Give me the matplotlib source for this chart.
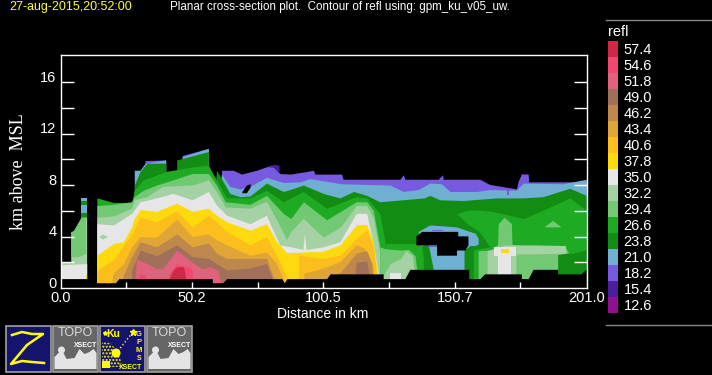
import matplotlib
matplotlib.use("Agg")
import matplotlib.pyplot as plt
from matplotlib.patches import Rectangle, Polygon, Circle

# colour scale
levels = [57.4, 54.6, 51.8, 49.0, 46.2, 43.4, 40.6, 37.8, 35.0, 32.2, 29.4, 26.6, 23.8, 21.0, 18.2, 15.4, 12.6]
colors = ['#d02648', '#f34671', '#e0627c', '#a0705a', '#be874b', '#e0a537', '#fcbe1c', '#fdda0d', '#e6e6e6',
          '#a5d2a5', '#73c873', '#1eaa23', '#128c12', '#6eafd2', '#785ae1', '#4b1e9b', '#910f91']
C = dict(zip(levels, colors))

x_ticks = [0.0, 50.2, 100.5, 150.7, 201.0]
y_labels = [0, 4, 8, 12, 16]

# --- main contour stack: height of the top of each band, km
p18_x = [32.3, 32.3, 40.2, 40.2, 46.5, 46.5, 56.5, 56.5, 61.5, 61.5, 66, 69.2, 74.9, 80.6, 83.8, 87.7, 94, 96.6, 97.2, 107.4, 108, 129.7, 131, 131.6, 144.3, 146, 146.2, 160.2, 164, 174.2, 174.9, 176.1, 178.7, 178.9, 200.9]
p18_z = [0, 9.9, 9.95, 0, 0, 10.3, 10.85, 0, 0, 9.15, 9.15, 8.85, 9.15, 9.55, 8.9, 8.85, 9.05, 9.15, 8.85, 8.85, 8.45, 8.45, 8.8, 8.45, 8.45, 8.8, 8.45, 8.45, 8.05, 7.7, 8.3, 8.85, 8.85, 8.25, 8.25]
b21_x = [28.2, 30.4, 32.3, 40.2, 40.2, 46.5, 46.5, 56.5, 56.5, 61.5, 64.7, 68.5, 72.4, 78.7, 85.1, 91.5, 95.3, 107.4, 125.9, 131, 136.7, 141.1, 145.6, 148.8, 159, 164, 174.2, 176.8, 192, 200.9]
b21_z = [9.15, 9.15, 9.7, 9.95, 0, 0, 10.2, 10.85, 0, 8.85, 7.9, 7.7, 7.9, 8.6, 8.2, 8.25, 8.5, 8.1, 8.0, 7.5, 7.65, 8.15, 8.1, 7.5, 7.5, 7.65, 7.6, 8.15, 8.1, 8.45]
d24_x = [28.2, 30.4, 33, 40.2, 40.2, 44.4, 44.4, 56.5, 56.5, 59.6, 61.5, 64.7, 68.5, 72.4, 78.7, 85.1, 87.7, 92.8, 100.4, 106.8, 112, 117, 122, 139, 141.1, 145, 154, 166.6, 176.8, 184.4, 194.6, 200.9]
d24_z = [8.0, 9.05, 9.7, 9.7, 0, 0, 9.95, 10.6, 0, 9.15, 8.5, 7.35, 7.1, 7.15, 8.15, 7.5, 7.65, 8.0, 7.35, 7.0, 7.5, 7.2, 6.7, 7.0, 7.2, 6.85, 6.8, 7.0, 7.0, 7.1, 7.75, 7.2]
g27_x = [13.9, 20.2, 27.2, 28.2, 31.7, 40.2, 44.4, 50.3, 56.5, 57.5, 59.6, 63.5, 72.4, 78.7, 85.1, 88, 92.8, 101.7, 113, 117, 122, 124]
g27_z = [7.0, 6.65, 6.65, 7.6, 8.4, 9.05, 9.2, 9.4, 9.55, 9.15, 8.4, 7.0, 7.0, 7.6, 6.7, 7.0, 7.5, 6.2, 7.1, 7.0, 5.8, 3.6]
l29_x = [13.9, 20.2, 27.2, 28.2, 31.7, 36.7, 43, 50.3, 56.5, 59.6, 63, 72.4, 78.7, 85.1, 88, 92.8, 101.7, 113, 117, 119.5, 122]
l29_z = [6.4, 6.5, 6.7, 7.1, 7.6, 8.0, 8.4, 8.9, 8.9, 8.0, 6.7, 6.5, 7.2, 5.8, 5.4, 6.7, 5.3, 6.7, 6.7, 6.05, 3.2]
p32_x = [13.9, 20.2, 27.2, 28.2, 33, 39, 50.3, 56.5, 59.6, 63, 72.4, 78.7, 82.6, 86.4, 88, 92.8, 100.4, 107, 113, 117, 119.5, 122]
p32_z = [5.5, 5.6, 6.2, 6.85, 7.1, 7.9, 8.0, 8.4, 7.5, 6.3, 6.2, 6.75, 5.3, 3.75, 4.4, 5.4, 3.95, 4.75, 6.4, 6.4, 5.5, 2.7]
w35_x = [13.9, 20.2, 27.2, 30.4, 36.7, 43, 50.3, 56.5, 59.6, 63.5, 72.4, 78.7, 80.6, 83.8, 88, 92.6, 93.2, 93.8, 100.4, 106.8, 113, 117, 119.5, 121.5]
w35_z = [5.0, 4.9, 5.8, 6.7, 7.0, 7.35, 6.85, 7.5, 6.45, 5.65, 5.0, 5.65, 4.75, 3.35, 3.2, 3.0, 4.25, 3.0, 3.2, 3.6, 5.8, 5.8, 3.45, 1.0]
y38_x = [13.9, 20.2, 24, 27.2, 28.2, 30.4, 36.7, 44.4, 50.3, 56.5, 59.6, 63.5, 72.4, 78.7, 82.6, 86.4, 100, 106.8, 113, 117, 119.5, 120.5, 121.5]
y38_z = [2.55, 3.45, 3.6, 4.75, 5.4, 6.1, 5.95, 6.6, 5.95, 6.2, 5.65, 5.15, 4.5, 5.0, 3.6, 2.75, 2.85, 3.35, 4.9, 4.95, 3.6, 2.0, 0.7]
o41_x = [13.9, 20.2, 24, 27.2, 30.4, 36.7, 44.4, 50.3, 56.5, 59.6, 63.5, 72.4, 78.7, 82.6, 86.4, 87, 90.9, 91, 100.4, 106.8, 113, 117, 119.5, 120.5, 121]
o41_z = [1.4, 2.2, 3.3, 4.2, 5.5, 5.15, 6.0, 4.75, 5.65, 5.15, 4.4, 3.35, 4.0, 2.55, 0.9, 0, 0, 2.55, 2.3, 2.55, 3.85, 4.5, 3.2, 1.7, 0]
a43_x = [19, 20.2, 24, 27.2, 30.4, 36.7, 44.4, 50.3, 56.5, 59.6, 63.5, 72.4, 78.7, 82.6, 85, 85.5, 92.9, 93, 100.4, 106.8, 113, 116, 118, 119.5, 120]
a43_z = [0, 1.15, 1.9, 3.2, 4.0, 3.95, 5.35, 4.0, 4.2, 3.75, 3.35, 2.55, 2.8, 1.9, 0.7, 0, 0, 1.15, 1.55, 2.05, 3.35, 3.1, 2.4, 1.5, 0]
t46_x = [23.5, 24, 27.2, 30.4, 36.7, 44.4, 50.3, 56.5, 59.6, 63.5, 72.4, 78.7, 81, 82.6, 102.9, 103, 106.8, 113, 117, 119, 119.5]
t46_z = [0, 1.0, 2.45, 3.6, 3.2, 4.2, 3.2, 3.5, 2.7, 2.3, 2.3, 2.3, 1.0, 0, 0, 0.7, 1.2, 2.7, 2.9, 1.9, 0]
r49_x = [27, 27.2, 30.4, 36.7, 44.4, 50.3, 56.5, 59.6, 63.5, 72.4, 78.7, 81, 81.1, 112, 113, 117, 118, 118.1]
r49_z = [0, 1.4, 2.95, 2.5, 3.35, 2.45, 2.3, 1.9, 1.4, 1.55, 1.9, 0.7, 0, 0, 2.0, 2.1, 1.0, 0]
k52_x = [28.2, 29, 33, 36.7, 39, 44.4, 50.3, 54, 57, 60, 62]
k52_z = [0, 2.25, 1.9, 1.5, 1.5, 2.95, 2.0, 1.5, 1.65, 1.4, 0]
h55_x = [29.8, 30, 32.5, 33, 41, 41.5, 44.4, 50.3, 50.5]
h55_z = [0, 1.1, 1.0, 0, 0, 1.1, 1.9, 1.5, 0]
c57_x = [41.5, 43, 44.5, 47, 47.7]
c57_z = [0.7, 1.4, 1.65, 1.65, 1.0]

# --- separate columns near the origin
s_w_x, s_w_z = [0, 10], [1.8, 1.9]
s_p_x, s_p_z = [0, 3.9, 3.9, 7.7, 7.8, 10], [2.05, 2.05, 4.4, 4.5, 5.5, 5.5]
s_l_x, s_l_lo, s_l_hi = [4, 5, 7.8, 9.6], [2.5, 2.4, 2.5, 2.7], [4.3, 4.5, 5.5, 5.5]
s_top_x = [7.8, 10]
s_b1 = [7.0, 7.0]
s_d1 = [6.75, 6.75]
s_b2 = [6.45, 6.45]
s_d2 = [5.8, 5.8]
s_y_x, s_y_lo, s_y_hi = [9.7, 10], [0.7, 0.7], [1.0, 1.0]

# --- right-hand cells
blue_ring_x = [136.7, 141.1, 151.3, 158.5, 159.6]
blue_ring_hi = [4.4, 4.9, 4.75, 4.25, 3.85]
blue_ring_lo = [3.3, 3.3, 3.3, 3.3, 3.4]
blue_core_x = [140, 142.4, 156.5]
blue_core_hi = [3.4, 3.4, 3.4]
gr_x = [151.3, 156, 160, 163, 164, 164, 177, 184.4, 194.6, 200.9]
gr_lo = [5.8, 4.9, 4.4, 3.5, 3.2, 0, 0, 0, 0, 0]
gr_hi = [5.8, 6.05, 6.05, 6.0, 6.0, 6.0, 5.4, 6.05, 7.0, 6.05]
gs_x, gs_hi = [157.6, 158.5, 164], [2.9, 3.0, 3.2]
lr_x = [159.6, 165, 167, 167.3, 169.5, 172.3, 172.5, 175, 180, 192.7, 194]
lr_hi = [2.9, 2.95, 3.4, 5.0, 5.5, 5.0, 3.4, 3.3, 3.2, 3.2, 2.8]
lump_x, lump_lo, lump_hi = [185, 188, 191], [4.75, 4.75, 4.75], [4.8, 5.25, 4.8]
dr_x, dr_hi = [190, 193, 196, 200.9], [2.6, 2.7, 2.7, 3.0]
gr2_x, gr2_lo, gr2_hi = [194.6, 198, 200.9], [2.8, 2.8, 3.0], [3.4, 3.9, 3.3]
pr_x, pr_hi = [163, 170, 174], [2.9, 3.35, 3.35]
pb_x, pb_lo, pb_hi = [174, 180, 193], [2.65, 2.65, 2.7], [3.35, 3.35, 3.3]
wu_x, wu_lo, wu_hi = [165.5, 170, 174], [2.5, 2.5, 2.5], [3.2, 3.2, 3.2]
wc_x, wc_hi = [167.3, 172.3], [2.9, 2.9]
ys_x, ys_lo, ys_hi = [168.5, 171.2], [2.7, 2.7], [3.05, 3.05]
gl_x, gl_hi = [124, 136, 138, 139], [3.45, 3.45, 3.3, 2.0]
ds_x, ds_hi = [138.6, 140.5, 142.4], [3.45, 3.4, 1.5]
dt_x, dt_hi = [154.2, 156.5, 157.6], [2.95, 3.3, 2.9]
ll_x, ll_hi = [122, 124, 130, 133, 135.5, 136.5], [3.2, 3.05, 2.95, 3.0, 2.5, 0.8]
pl_x, pl_hi = [122.5, 126, 130, 132, 134.5, 135.5], [0.7, 1.9, 2.3, 2.9, 2.5, 0.7]
wl_x, wl_hi = [125.9, 130.3], [1.15, 1.15]
pblob_x, pblob_lo, pblob_hi = [14.5, 16, 18], [4.0, 3.8, 4.0], [4.0, 4.2, 4.0]
# thin weak-echo slivers
v1_x, v1_lo, v1_hi = [142, 146], [4.4, 4.4], [4.5, 4.5]
v2_x, v2_lo, v2_hi = [140.5, 144], [3.15, 3.15], [3.3, 3.3]
v3_x, v3_lo, v3_hi = [170.5, 171.5], [7.2, 7.2], [7.6, 7.6]
u1_x, u1_lo, u1_hi = [176.1, 178.7], [8.75, 8.75], [8.85, 8.85]
u2_x, u2_lo, u2_hi = [79.5, 81.5, 83.5], [9.4, 9.4, 8.9], [9.5, 9.6, 9.55]

# no-echo areas
bottom_x = [0, 10, 13.9, 21, 22.3, 58, 58, 62, 63.5, 84.6, 85.5, 86.5, 101.7, 103, 123.3, 123.3, 131.6, 133.5, 156, 156, 160.3, 162, 176.1, 176.1, 178.7, 180.6, 190, 190, 198.8, 200.9]
bottom_z = [0.73, 0.73, 0.41, 0.41, 0.73, 0.73, 0.41, 0.41, 0.73, 0.73, 0.41, 0.73, 0.73, 1.1, 1.1, 0.73, 0.73, 1.45, 1.45, 0.73, 0.73, 1.1, 1.1, 0.73, 0.73, 1.45, 1.45, 1.1, 1.1, 1.45]
hole_x = [135.8, 138, 143.7, 143.7, 151.3, 151.3, 151.8, 151.8, 154.5, 155.7]
hole_lo = [3.35, 3.35, 3.35, 2.55, 2.55, 2.95, 2.95, 2.95, 2.95, 3.35]
hole_hi = [4.05, 4.4, 4.4, 4.4, 4.4, 4.4, 4.4, 4.05, 4.05, 4.05]
hole2_x, hole2_lo, hole2_hi = [69.3, 71, 72.5], [7.4, 7.4, 7.85], [7.5, 8.0, 8.1]

W, H = 712, 375
fig = plt.figure(figsize=(W / 100, H / 100), dpi=100, facecolor='black')
plt.rcParams['font.family'] = ['Liberation Sans', 'DejaVu Sans']

# page overlay in pixel units
pg = fig.add_axes([0, 0, 1, 1])
pg.set_xlim(0, W); pg.set_ylim(H, 0); pg.axis('off')

L, R, T, B = 60.5, 586.5, 55, 288
ax = fig.add_axes([L / W, 1 - B / H, (R - L) / W, (B - T) / H], facecolor='black')
ax.set_xlim(0, 201.0)
ax.set_ylim(0, (B - T) / 12.87)


def band(level, x, hi, lo=0):
    ax.fill_between(x, lo, hi, color=C[level], linewidth=0, antialiased=False)


# isolated columns
band(21.0, s_top_x, s_b1)
band(23.8, s_top_x, s_d1)
band(21.0, s_top_x, s_b2)
band(23.8, s_top_x, s_d2)
band(32.2, s_p_x, s_p_z)
band(29.4, s_l_x, s_l_hi, s_l_lo)
band(35.0, s_w_x, s_w_z)
band(37.8, s_y_x, s_y_hi, s_y_lo)

# main stack, weak to strong
for lev, x, z in [(18.2, p18_x, p18_z), (21.0, b21_x, b21_z), (23.8, d24_x, d24_z), (26.6, g27_x, g27_z),
                  (29.4, l29_x, l29_z), (32.2, p32_x, p32_z), (35.0, w35_x, w35_z), (37.8, y38_x, y38_z),
                  (40.6, o41_x, o41_z), (43.4, a43_x, a43_z), (46.2, t46_x, t46_z), (49.0, r49_x, r49_z),
                  (51.8, k52_x, k52_z), (54.6, h55_x, h55_z), (57.4, c57_x, c57_z)]:
    band(lev, x, z)
band(32.2, pblob_x, pblob_hi, pblob_lo)

# right-hand cells
band(21.0, blue_ring_x, blue_ring_hi, blue_ring_lo)
band(21.0, blue_core_x, blue_core_hi)
band(26.6, gr_x, gr_hi, gr_lo)
band(26.6, gs_x, gs_hi)
band(29.4, lr_x, lr_hi)
band(29.4, lump_x, lump_hi, lump_lo)
band(23.8, dr_x, dr_hi)
band(26.6, gr2_x, gr2_hi, gr2_lo)
band(32.2, pr_x, pr_hi)
band(32.2, pb_x, pb_hi, pb_lo)
band(35.0, wu_x, wu_hi, wu_lo)
band(35.0, wc_x, wc_hi)
band(37.8, ys_x, ys_hi, ys_lo)
band(26.6, gl_x, gl_hi)
band(23.8, ds_x, ds_hi)
band(23.8, dt_x, dt_hi)
band(29.4, ll_x, ll_hi)
band(32.2, pl_x, pl_hi)
band(35.0, wl_x, wl_hi)
band(18.2, v1_x, v1_hi, v1_lo)
band(18.2, v2_x, v2_hi, v2_lo)
band(18.2, v3_x, v3_hi, v3_lo)
band(15.4, u1_x, u1_hi, u1_lo)
band(15.4, u2_x, u2_hi, u2_lo)

# no-echo
ax.fill_between(bottom_x, 0, bottom_z, color='black', linewidth=0, antialiased=False)
ax.fill_between(hole_x, hole_lo, hole_hi, color='black', linewidth=0, antialiased=False)
ax.fill_between(hole2_x, hole2_lo, hole2_hi, color='black', linewidth=0, antialiased=False)

# axes
for s in ax.spines.values():
    s.set_color('white'); s.set_linewidth(1)
ax.set_xticks([25.1 * i for i in range(1, 8)])
ax.set_yticks(range(2, 18, 2))
ax.tick_params(axis='x', direction='in', length=4.5, width=1, color='white', labelbottom=False)
ax.tick_params(axis='y', direction='in', length=9.5, width=1, color='white', left=True, right=True, labelleft=False)

for v in x_ticks:
    pg.text(L + v / 201.0 * (R - L), 298.5, f'{v:.1f}', color='white', ha='center', va='center', fontsize=10.5)
for v in y_labels:
    pg.text(56.5, B - v * 12.87 - 4.5, str(v), color='white', ha='right', va='center', fontsize=10.5)
pg.text(323, 314.5, 'Distance in km', color='white', ha='center', va='center', fontsize=10)
pg.text(19, 172, 'km above  MSL', color='white', rotation=90, ha='center', va='center', fontsize=13,
        family='Liberation Serif')

pg.text(9, 7, '27-aug-2015,20:52:00', color='#ffff30', va='center', fontsize=9)
pg.text(170, 7, 'Planar cross-section plot.  Contour of refl using: gpm_ku_v05_uw.', color='white', va='center', fontsize=8.4)

# colour bar
pg.plot([606, 712], [19.5, 19.5], color='#888888', lw=1)
pg.plot([606, 712], [324.5, 324.5], color='#888888', lw=1)
pg.text(608, 32, 'refl', color='white', va='center', fontsize=10.5)
for i, (lev, c) in enumerate(zip(levels, colors)):
    pg.add_patch(Rectangle((608, 41 + i * 16), 10, 16, facecolor=c, edgecolor='none'))
    pg.text(623.5, 49.5 + i * 16, f'{lev:.1f}', color='white', va='center', fontsize=10.5)

# button icons
NAVY = '#14146e'; GREY = '#666666'; EDGE = '#a0a0a0'; YEL = '#ffff00'
mtn = [(0, 44), (0, 32), (5, 27), (9, 28), (12, 34), (20, 33), (25, 24), (30, 29), (35, 27), (39, 24), (42, 28), (42, 44)]


def button(x0, face):
    pg.add_patch(Rectangle((x0, 325.5), 45, 46, facecolor=face, edgecolor=EDGE, linewidth=1.2))


def topo(x0):
    button(x0, GREY)
    pts = [(x0 + 2 + a, 325 + b) for a, b in mtn]
    pg.add_patch(Polygon(pts, closed=True, facecolor='#e4e4e4', edgecolor='none'))
    pg.text(x0 + 23, 333.5, 'TOPO', color='#d8d8d8', ha='center', va='center', fontsize=9)
    pg.text(x0 + 33, 345.5, 'XSECT', color='white', ha='center', va='center', fontsize=5, fontweight='bold')
    pg.add_patch(Circle((x0 + 9, 350), 3.5, facecolor='#e4e4e4', edgecolor='none'))


button(5.5, NAVY)
pg.plot([12, 22, 32, 43, 27, 11, 22, 32, 44], [335, 332, 334, 334, 345, 364, 361, 362, 363], color=YEL, lw=1.8)
topo(52.5)
button(99.5, NAVY)
pg.add_patch(Polygon([(102, 342), (110, 343), (119, 352), (122, 367), (102, 367)], closed=True,
                     facecolor='none', edgecolor=YEL, hatch='.....', linewidth=0))
pg.add_patch(Circle((116, 353), 4.5, facecolor=YEL, edgecolor='none'))
pg.add_patch(Rectangle((102, 361), 8, 6.5, facecolor=YEL, edgecolor='none'))
pg.text(113, 334, 'Ku', color=YEL, ha='center', va='center', fontsize=7.5, fontweight='bold')
pg.plot([105], [333], marker='*', color=YEL, ms=3)
pg.plot([118, 133], [351, 332], color=YEL, lw=1, ls=':')
pg.plot([133], [332], marker='*', color=YEL, ms=5)
for i, ch in enumerate('GPM'):
    pg.text(139, 335 + i * 7.5, ch, color=YEL, ha='center', va='center', fontsize=5.5, fontweight='bold')
pg.text(139.5, 359, 'S', color=YEL, ha='center', va='center', fontsize=5, fontweight='bold')
pg.text(131, 367.5, 'XSECT', color=YEL, ha='center', va='center', fontsize=5, fontweight='bold')
topo(146.5)

fig.savefig('out.png', dpi=100, facecolor='black')
